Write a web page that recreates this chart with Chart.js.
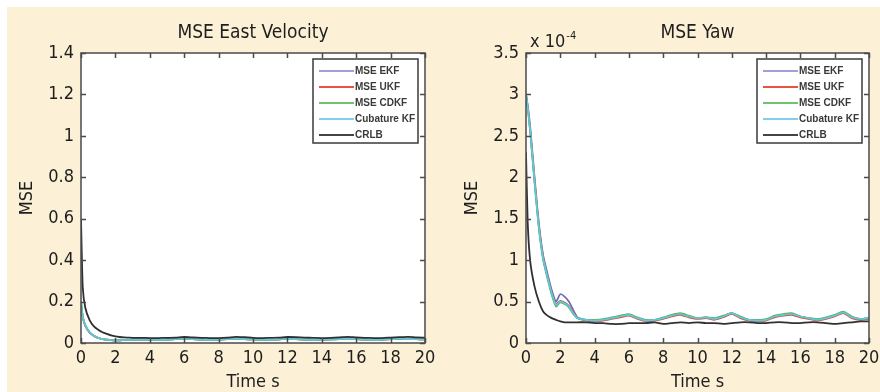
<!DOCTYPE html>
<html>
<head>
<meta charset="utf-8">
<script src="https://cdn.jsdelivr.net/npm/chart.js@4.4.0/dist/chart.umd.min.js"></script>
<style>
  body { margin: 0; background: #ffffff; }
  #page { position: absolute; left: 0; top: 0; width: 880px; height: 392px; background: #ffffff; }
  #cream { position: absolute; left: 7px; top: 7px; width: 873px; height: 385px; background: #fcf0d6; }
  canvas { position: absolute; top: 0; }
  #c1 { left: 0; }
  #c2 { left: 440px; }
</style>
</head>
<body>
<div id="page">
  <div id="cream"></div>
  <canvas id="c1" width="440" height="392"></canvas>
  <canvas id="c2" width="440" height="392"></canvas>
</div>
<script>
// time axis, seconds
var time = [0, 0.1, 0.25, 0.5, 0.75, 1, 1.25, 1.5, 1.75, 2, 2.25, 2.5, 2.75, 3,
  3.5, 4, 4.5, 5, 5.5, 6, 6.5, 7, 7.5, 8, 8.5, 9, 9.5, 10, 10.5, 11, 11.5, 12,
  12.5, 13, 13.5, 14, 14.5, 15, 15.5, 16, 16.5, 17, 17.5, 18, 18.5, 19, 19.5, 20];

var seriesNames = ["MSE EKF", "MSE UKF", "MSE CDKF", "Cubature KF", "CRLB"];
var seriesColors = ["#6a6ab8", "#e0503c", "#55b455", "#62c6de", "#303030"];
var legendColors = ["#a0a0d4", "#e8553d", "#6cc46c", "#7fd0e8", "#444444"];

var xTicks = [0, 2, 4, 6, 8, 10, 12, 14, 16, 18, 20];

// MSE East Velocity
var velTicks = [0, 0.2, 0.4, 0.6, 0.8, 1, 1.2, 1.4];
var velEKF  = [0.19, 0.125, 0.082, 0.05, 0.034, 0.024, 0.019, 0.016, 0.014, 0.013, 0.013, 0.014, 0.015, 0.016, 0.016, 0.016, 0.015, 0.016, 0.018, 0.021, 0.018, 0.016, 0.015, 0.016, 0.018, 0.021, 0.019, 0.017, 0.016, 0.015, 0.017, 0.02, 0.018, 0.016, 0.015, 0.016, 0.017, 0.019, 0.021, 0.018, 0.016, 0.015, 0.016, 0.018, 0.021, 0.019, 0.018, 0.017];
var velUKF  = [0.2, 0.128, 0.084, 0.051, 0.035, 0.024, 0.019, 0.016, 0.014, 0.013, 0.013, 0.014, 0.015, 0.016, 0.017, 0.016, 0.015, 0.016, 0.018, 0.022, 0.018, 0.016, 0.015, 0.016, 0.018, 0.021, 0.019, 0.017, 0.016, 0.015, 0.017, 0.02, 0.018, 0.016, 0.015, 0.016, 0.017, 0.02, 0.026, 0.019, 0.016, 0.015, 0.016, 0.018, 0.021, 0.019, 0.018, 0.017];
var velCDKF = [0.2, 0.13, 0.086, 0.053, 0.035, 0.025, 0.019, 0.016, 0.014, 0.013, 0.013, 0.014, 0.015, 0.016, 0.017, 0.016, 0.015, 0.016, 0.018, 0.022, 0.018, 0.016, 0.015, 0.016, 0.018, 0.021, 0.019, 0.017, 0.016, 0.015, 0.017, 0.02, 0.018, 0.016, 0.015, 0.016, 0.017, 0.019, 0.022, 0.018, 0.016, 0.015, 0.016, 0.018, 0.021, 0.019, 0.018, 0.017];
var velCKF  = [0.2, 0.13, 0.085, 0.052, 0.035, 0.024, 0.019, 0.016, 0.014, 0.013, 0.013, 0.014, 0.015, 0.016, 0.017, 0.016, 0.015, 0.016, 0.018, 0.022, 0.018, 0.016, 0.015, 0.016, 0.018, 0.021, 0.019, 0.017, 0.016, 0.015, 0.017, 0.02, 0.018, 0.016, 0.015, 0.016, 0.017, 0.019, 0.022, 0.018, 0.016, 0.015, 0.016, 0.018, 0.021, 0.019, 0.018, 0.017];
var velCRLB = [0.6, 0.27, 0.17, 0.11, 0.08, 0.064, 0.052, 0.044, 0.037, 0.032, 0.029, 0.027, 0.026, 0.025, 0.025, 0.024, 0.024, 0.025, 0.026, 0.029, 0.027, 0.025, 0.024, 0.024, 0.026, 0.03, 0.028, 0.025, 0.024, 0.025, 0.026, 0.029, 0.028, 0.026, 0.025, 0.024, 0.025, 0.027, 0.03, 0.027, 0.025, 0.024, 0.024, 0.026, 0.028, 0.03, 0.027, 0.026];

// MSE Yaw, in units of 1e-4
var yawTicks = [0, 0.5, 1, 1.5, 2, 2.5, 3, 3.5];
var yawEKF  = [3.0, 2.87, 2.6, 2.0, 1.45, 1.06, 0.84, 0.64, 0.5, 0.59, 0.56, 0.5, 0.4, 0.31, 0.28, 0.27, 0.28, 0.3, 0.32, 0.34, 0.3, 0.27, 0.28, 0.3, 0.33, 0.35, 0.32, 0.3, 0.31, 0.29, 0.32, 0.36, 0.31, 0.28, 0.27, 0.28, 0.32, 0.34, 0.35, 0.32, 0.3, 0.28, 0.3, 0.33, 0.37, 0.31, 0.29, 0.3];
var yawUKF  = [3.0, 2.85, 2.55, 1.96, 1.41, 1.03, 0.8, 0.6, 0.47, 0.51, 0.49, 0.45, 0.37, 0.3, 0.27, 0.26, 0.27, 0.29, 0.31, 0.33, 0.29, 0.26, 0.27, 0.29, 0.32, 0.34, 0.31, 0.29, 0.3, 0.28, 0.31, 0.35, 0.3, 0.27, 0.26, 0.27, 0.31, 0.33, 0.34, 0.31, 0.29, 0.27, 0.29, 0.32, 0.36, 0.3, 0.28, 0.29];
var yawCDKF = [3.0, 2.84, 2.53, 1.93, 1.38, 1.0, 0.78, 0.58, 0.44, 0.49, 0.47, 0.43, 0.35, 0.3, 0.28, 0.28, 0.29, 0.31, 0.33, 0.35, 0.31, 0.28, 0.28, 0.31, 0.34, 0.36, 0.33, 0.3, 0.31, 0.3, 0.33, 0.36, 0.32, 0.28, 0.28, 0.29, 0.33, 0.35, 0.36, 0.32, 0.3, 0.29, 0.31, 0.34, 0.38, 0.32, 0.29, 0.3];
var yawCKF  = [3.0, 2.85, 2.55, 1.95, 1.4, 1.02, 0.8, 0.6, 0.46, 0.5, 0.48, 0.44, 0.36, 0.3, 0.28, 0.27, 0.28, 0.3, 0.32, 0.34, 0.3, 0.27, 0.28, 0.3, 0.33, 0.35, 0.32, 0.3, 0.31, 0.29, 0.32, 0.36, 0.31, 0.28, 0.27, 0.28, 0.32, 0.34, 0.35, 0.32, 0.3, 0.28, 0.3, 0.33, 0.37, 0.31, 0.29, 0.3];
var yawCRLB = [2.3, 1.45, 0.98, 0.68, 0.5, 0.38, 0.33, 0.3, 0.28, 0.26, 0.25, 0.25, 0.25, 0.25, 0.25, 0.24, 0.24, 0.23, 0.23, 0.24, 0.24, 0.24, 0.25, 0.23, 0.24, 0.25, 0.24, 0.25, 0.24, 0.24, 0.23, 0.24, 0.25, 0.25, 0.24, 0.24, 0.25, 0.25, 0.24, 0.24, 0.25, 0.25, 0.24, 0.23, 0.24, 0.25, 0.26, 0.26];

var FONT = "'DejaVu Sans Condensed', 'DejaVu Sans', sans-serif";
var TXT = '#1e1e1e';

function points(vals) {
  return time.map(function (t, i) { return { x: t, y: vals[i] }; });
}

// white plot area, box frame and inward tick marks like matlab
var framePlugin = {
  id: 'frame',
  beforeDatasetsDraw: function (chart) {
    var a = chart.chartArea, ctx = chart.ctx;
    ctx.save();
    ctx.fillStyle = '#ffffff';
    ctx.fillRect(a.left, a.top, a.right - a.left, a.bottom - a.top);
    ctx.restore();
  },
  afterDatasetsDraw: function (chart) {
    var a = chart.chartArea, ctx = chart.ctx;
    var x = chart.scales.x, y = chart.scales.y;
    ctx.save();
    ctx.strokeStyle = '#4a4a4a';
    ctx.lineWidth = 1.5;
    ctx.strokeRect(a.left, a.top, a.right - a.left, a.bottom - a.top);
    ctx.beginPath();
    x.ticks.forEach(function (t) {
      var px = Math.round(x.getPixelForValue(t.value)) + 0.5;
      ctx.moveTo(px, a.bottom); ctx.lineTo(px, a.bottom - 5);
      ctx.moveTo(px, a.top); ctx.lineTo(px, a.top + 5);
    });
    y.ticks.forEach(function (t) {
      var py = Math.round(y.getPixelForValue(t.value)) + 0.5;
      ctx.moveTo(a.left, py); ctx.lineTo(a.left + 5, py);
      ctx.moveTo(a.right, py); ctx.lineTo(a.right - 5, py);
    });
    ctx.stroke();
    ctx.restore();
  }
};

// title centred over the plot box, and the optional "x 10^-4" note
var headerPlugin = {
  id: 'header',
  afterDraw: function (chart) {
    var opts = chart.options.plugins.header;
    var a = chart.chartArea, ctx = chart.ctx;
    ctx.save();
    ctx.fillStyle = TXT;
    ctx.textAlign = 'center';
    ctx.textBaseline = 'middle';
    ctx.font = '19px ' + FONT;
    ctx.fillText(opts.text, (a.left + a.right) / 2, 33);
    if (opts.exponent) {
      ctx.textAlign = 'left';
      ctx.textBaseline = 'alphabetic';
      ctx.font = '18px ' + FONT;
      ctx.fillText('x 10', a.left + 4, 47);
      var w = ctx.measureText('x 10').width;
      ctx.font = '11px ' + FONT;
      ctx.fillText('-4', a.left + 4 + w + 1, 39);
    }
    ctx.restore();
  }
};

// legend box in the top right corner of the plot
var boxLegendPlugin = {
  id: 'boxLegend',
  afterDraw: function (chart) {
    var a = chart.chartArea, ctx = chart.ctx;
    var w = 105, h = 84;
    var left = a.right - 7 - w, top = a.top + 6;
    ctx.save();
    ctx.fillStyle = '#ffffff';
    ctx.fillRect(left, top, w, h);
    ctx.strokeStyle = '#3a3a3a';
    ctx.lineWidth = 1.5;
    ctx.strokeRect(left, top, w, h);
    ctx.font = 'bold 10px "Liberation Sans", Arial, sans-serif';
    ctx.textBaseline = 'middle';
    ctx.textAlign = 'left';
    seriesNames.forEach(function (name, i) {
      var yy = top + 12 + i * 16;
      ctx.strokeStyle = legendColors[i];
      ctx.lineWidth = 2.2;
      ctx.beginPath();
      ctx.moveTo(left + 6, yy);
      ctx.lineTo(left + 41, yy);
      ctx.stroke();
      ctx.fillStyle = '#3a3a3a';
      ctx.fillText(name, left + 42, yy + 0.5);
    });
    ctx.restore();
  }
};

function makeChart(id, title, values, yMax, yTicks, yWidth, yTitlePad, rightPad, exponent) {
  var datasets = values.map(function (v, i) {
    return {
      label: seriesNames[i],
      data: points(v),
      borderColor: seriesColors[i],
      backgroundColor: seriesColors[i],
      borderWidth: i === 4 ? 1.8 : 1.7,
      pointRadius: 0,
      tension: 0.2,
      order: 5 - i
    };
  });
  return new Chart(document.getElementById(id), {
    type: 'line',
    data: { datasets: datasets },
    options: {
      responsive: false,
      animation: false,
      devicePixelRatio: 1,
      layout: { padding: { left: 0, right: rightPad, top: 53, bottom: 0 } },
      plugins: {
        legend: { display: false },
        tooltip: { enabled: false },
        title: { display: false },
        header: { text: title, exponent: exponent }
      },
      scales: {
        x: {
          type: 'linear',
          min: 0, max: 20,
          afterFit: function (s) { s.height = 49; s.paddingLeft = 0; s.paddingRight = 0; },
          afterBuildTicks: function (s) { s.ticks = xTicks.map(function (v) { return { value: v }; }); },
          grid: { display: false, drawTicks: false },
          border: { display: false },
          ticks: { color: TXT, padding: 5, maxRotation: 0, autoSkip: false, font: { family: FONT, size: 18 } },
          title: { display: true, text: 'Time s', color: TXT, padding: { top: 0, bottom: 0 }, font: { family: FONT, size: 18, lineHeight: 1.1 } }
        },
        y: {
          min: 0, max: yMax,
          afterFit: function (s) { s.width = yWidth; s.paddingTop = 0; s.paddingBottom = 0; },
          afterBuildTicks: function (s) { s.ticks = yTicks.map(function (v) { return { value: v }; }); },
          grid: { display: false, drawTicks: false },
          border: { display: false },
          ticks: {
            color: TXT, padding: 7, autoSkip: false,
            font: { family: FONT, size: 18 },
            callback: function (v) { return String(v); }
          },
          title: { display: true, text: 'MSE', color: TXT, padding: { top: yTitlePad, bottom: 0 }, font: { family: FONT, size: 18, lineHeight: 1.2 } }
        }
      }
    },
    plugins: [framePlugin, headerPlugin, boxLegendPlugin]
  });
}

makeChart('c1', 'MSE East Velocity', [velEKF, velUKF, velCDKF, velCKF, velCRLB], 1.4, velTicks, 81, 17, 15, false);
makeChart('c2', 'MSE Yaw', [yawEKF, yawUKF, yawCDKF, yawCKF, yawCRLB], 3.5, yawTicks, 86, 22, 11, true);
</script>
</body>
</html>
